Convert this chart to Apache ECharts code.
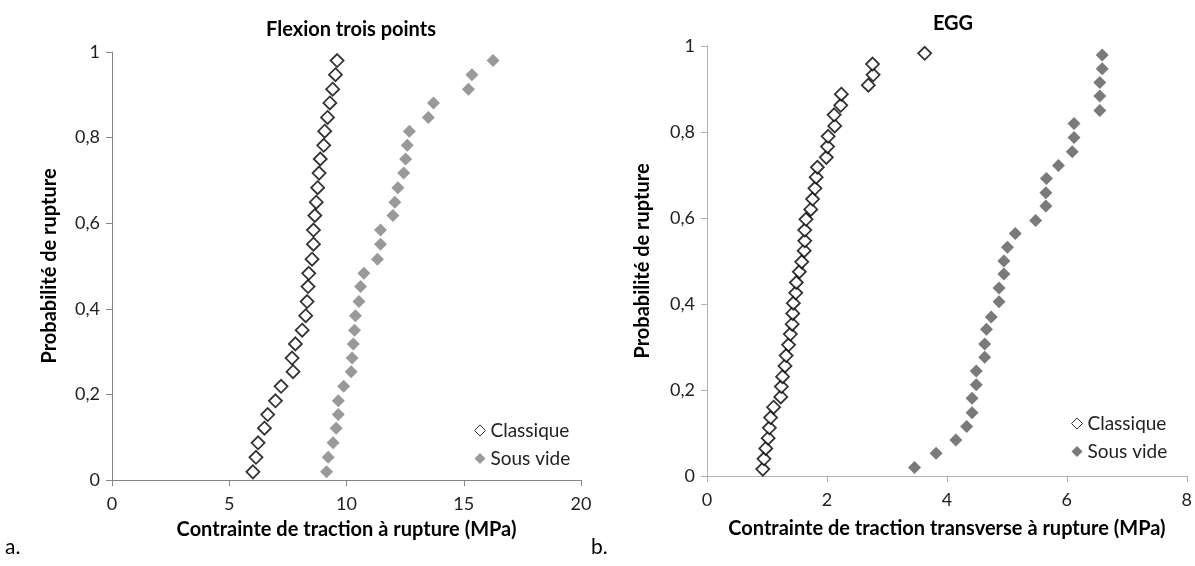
<!DOCTYPE html>
<html>
<head>
<meta charset="utf-8">
<script src="https://cdn.jsdelivr.net/npm/echarts@6/dist/echarts.min.js"></script>
<style>
  html, body { margin: 0; padding: 0; background: #fff; }
  #main { width: 1195px; height: 566px; }
</style>
</head>
<body>
<div id="main"></div>
<script>
// a. Flexion trois points
var probA = [0.019, 0.053, 0.087, 0.121, 0.153, 0.185, 0.219, 0.253, 0.285, 0.318,
             0.350, 0.384, 0.417, 0.452, 0.483, 0.516, 0.551, 0.584, 0.618, 0.649,
             0.683, 0.717, 0.750, 0.782, 0.815, 0.847, 0.881, 0.913, 0.947, 0.980];
var flexClassique = [6.01, 6.14, 6.23, 6.50, 6.64, 6.97, 7.21, 7.72, 7.68, 7.82,
                     8.11, 8.26, 8.32, 8.36, 8.39, 8.53, 8.59, 8.59, 8.65, 8.71,
                     8.77, 8.83, 8.88, 9.03, 9.07, 9.19, 9.29, 9.41, 9.53, 9.60];
var flexSousVide = [9.15, 9.22, 9.43, 9.56, 9.65, 9.65, 9.88, 10.20, 10.24, 10.29,
                    10.34, 10.38, 10.53, 10.60, 10.74, 11.32, 11.45, 11.45, 11.98, 12.06,
                    12.19, 12.44, 12.52, 12.59, 12.68, 13.49, 13.71, 15.20, 15.35, 16.25];

// b. EGG
var probBClassique = [0.016, 0.040, 0.064, 0.088, 0.112, 0.136, 0.160, 0.184, 0.208, 0.231,
                      0.256, 0.280, 0.305, 0.330, 0.353, 0.378, 0.402, 0.426, 0.450, 0.475,
                      0.498, 0.524, 0.547, 0.572, 0.597, 0.620, 0.644, 0.669, 0.695, 0.718,
                      0.741, 0.766, 0.790, 0.814, 0.840, 0.862, 0.888, 0.909, 0.933, 0.958,
                      0.983];
var eggClassique = [0.93, 0.95, 0.98, 1.02, 1.04, 1.06, 1.11, 1.23, 1.24, 1.26,
                    1.30, 1.32, 1.36, 1.39, 1.42, 1.43, 1.44, 1.48, 1.49, 1.54,
                    1.58, 1.62, 1.63, 1.63, 1.65, 1.73, 1.76, 1.80, 1.82, 1.84,
                    1.99, 2.01, 2.02, 2.13, 2.12, 2.23, 2.24, 2.69, 2.77, 2.76,
                    3.63];
var probBSousVide = [0.020, 0.053, 0.084, 0.115, 0.147, 0.181, 0.212, 0.244, 0.276, 0.307,
                     0.341, 0.370, 0.405, 0.437, 0.470, 0.500, 0.532, 0.564, 0.594, 0.628,
                     0.659, 0.692, 0.722, 0.754, 0.787, 0.820, 0.850, 0.884, 0.915, 0.947,
                     0.979];
var eggSousVide = [3.46, 3.82, 4.15, 4.33, 4.42, 4.42, 4.49, 4.49, 4.63, 4.63,
                   4.66, 4.74, 4.87, 4.87, 4.95, 4.95, 5.01, 5.14, 5.48, 5.65,
                   5.65, 5.66, 5.86, 6.09, 6.12, 6.12, 6.55, 6.55, 6.55, 6.59,
                   6.59];

var FONT = "Lato, 'Open Sans', sans-serif";

function pairs(xs, ys) {
    var res = [];
    for (var i = 0; i < xs.length; i++) {
        res.push([xs[i], ys[i]]);
    }
    return res;
}

// y labels use a decimal comma
function comma(v) {
    return String(v).replace('.', ',');
}

function xAxisCfg(grid, max, interval, name, gap, lineColor) {
    return {
        type: 'value', gridIndex: grid, min: 0, max: max, interval: interval,
        name: name, nameLocation: 'middle', nameGap: gap,
        nameTextStyle: { fontFamily: FONT, fontWeight: 'bold', fontSize: 20, color: '#000' },
        axisLine: { show: true, onZero: false, lineStyle: { color: lineColor, width: 1 } },
        axisTick: { show: true, length: 6, lineStyle: { color: lineColor } },
        axisLabel: { fontFamily: FONT, fontSize: 18, color: '#222', margin: 15 },
        splitLine: { show: false }
    };
}

function yAxisCfg(grid, gap, lineColor) {
    return {
        type: 'value', gridIndex: grid, min: 0, max: 1, interval: 0.2,
        name: 'Probabilité de rupture', nameLocation: 'middle', nameGap: gap,
        nameTextStyle: { fontFamily: FONT, fontWeight: 'bold', fontSize: 20, color: '#000' },
        axisLine: { show: true, lineStyle: { color: lineColor, width: 1 } },
        axisTick: { show: true, length: 6, lineStyle: { color: lineColor } },
        axisLabel: { fontFamily: FONT, fontSize: 18, color: '#222', margin: 12, formatter: comma },
        splitLine: { show: false }
    };
}

var hollow = { color: '#fff', borderColor: '#000', borderWidth: 1.8 };

var chart = echarts.init(document.getElementById('main'));
var option = {
    animation: false,
    title: [
        { text: 'Flexion trois points', left: 346, top: 15, textAlign: 'center',
          textStyle: { fontFamily: FONT, fontWeight: 'bold', fontSize: 20, color: '#000' } },
        { text: 'EGG', left: 948, top: 9, textAlign: 'center',
          textStyle: { fontFamily: FONT, fontWeight: 'bold', fontSize: 20, color: '#000' } }
    ],
    legend: [
        { orient: 'vertical', left: 469, top: 416, itemWidth: 11, itemHeight: 11, itemGap: 9,
          selectedMode: false,
          textStyle: { fontFamily: FONT, fontSize: 19, color: '#222' },
          data: [
              { name: 'Classique', icon: 'diamond', itemStyle: { color: '#fff', borderColor: '#000', borderWidth: 1 } },
              { name: 'Sous vide', icon: 'diamond', itemStyle: { color: '#808080', borderWidth: 0 } }
          ] },
        { orient: 'vertical', left: 1066, top: 409, itemWidth: 11, itemHeight: 11, itemGap: 9,
          selectedMode: false,
          textStyle: { fontFamily: FONT, fontSize: 19, color: '#222' },
          data: [
              { name: 'Classique', icon: 'diamond', itemStyle: { color: '#fff', borderColor: '#000', borderWidth: 1 } },
              { name: 'Sous vide', icon: 'diamond', itemStyle: { color: '#595959', borderWidth: 0 } }
          ] }
    ],
    grid: [
        { left: 112, top: 52, width: 469, height: 428 },
        { left: 707, top: 46, width: 480, height: 430 }
    ],
    xAxis: [
        xAxisCfg(0, 20, 5, 'Contrainte de traction à rupture (MPa)', 40, '#868686'),
        xAxisCfg(1, 8, 2, 'Contrainte de traction transverse à rupture (MPa)', 43, '#b3b3b3')
    ],
    yAxis: [
        yAxisCfg(0, 52, '#868686'),
        yAxisCfg(1, 54, '#b3b3b3')
    ],
    series: [
        { name: 'Classique', type: 'scatter', xAxisIndex: 0, yAxisIndex: 0,
          symbol: 'diamond', symbolSize: 13, itemStyle: hollow, z: 3,
          data: pairs(flexClassique, probA) },
        { name: 'Sous vide', type: 'scatter', xAxisIndex: 0, yAxisIndex: 0,
          symbol: 'diamond', symbolSize: 13, itemStyle: { color: '#808080' },
          data: pairs(flexSousVide, probA) },
        { name: 'Classique', type: 'scatter', xAxisIndex: 1, yAxisIndex: 1,
          symbol: 'diamond', symbolSize: 13, itemStyle: hollow, z: 3,
          data: pairs(eggClassique, probBClassique) },
        { name: 'Sous vide', type: 'scatter', xAxisIndex: 1, yAxisIndex: 1,
          symbol: 'diamond', symbolSize: 13, itemStyle: { color: '#595959' },
          data: pairs(eggSousVide, probBSousVide) }
    ],
    graphic: [
        { type: 'text', left: 5, top: 537, style: { text: 'a.', fontFamily: FONT, fontSize: 21, fill: '#000' } },
        { type: 'text', left: 591, top: 537, style: { text: 'b.', fontFamily: FONT, fontSize: 21, fill: '#000' } }
    ]
};
chart.setOption(option);
</script>
</body>
</html>
